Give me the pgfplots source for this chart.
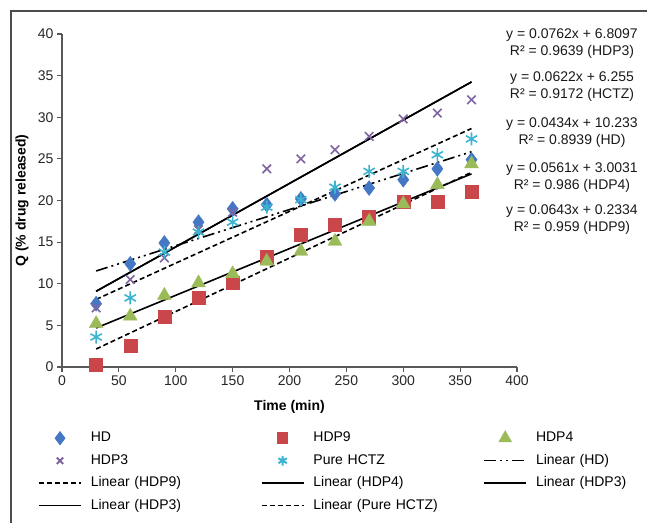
\documentclass[border=0pt]{standalone}
\usepackage{fontspec}
\setmainfont{Liberation Sans}
\usepackage{pgfplots}
\pgfplotsset{compat=1.18}
\definecolor{hdblue}{HTML}{4478C4}
\definecolor{hdred}{HTML}{C9474A}
\definecolor{hdgreen}{HTML}{9BBB59}
\definecolor{hdpurple}{HTML}{8064A2}
\definecolor{hdaqua}{HTML}{3CB4CF}
\pgfplotsset{
  lineleg/.style={legend image code/.code={\draw[##1, line width=1.6pt] plot coordinates {(0pt,0pt) (42pt,0pt)};}},
  mkleg/.style={legend image code/.code={\path (0pt,0pt) (42pt,0pt);
    \draw[##1, line width=2pt, /tikz/every mark/.append style={scale=0.75}] plot coordinates {(21pt,0pt)};}},
}
\begin{document}
\begin{tikzpicture}[font=\fontsize{14}{17}\selectfont]
\path[use as bounding box] (0,0) rectangle (647pt,523pt);
\draw[black!70, line width=1.2pt] (11pt,0) -- (11pt,512pt) -- (647pt,512pt);
\begin{axis}[at={(62pt,156pt)}, anchor=south west, scale only axis,
  width=455pt, height=333pt,
  xmin=0, xmax=400, ymin=0, ymax=40,
  xtick={0,50,...,400}, ytick={0,5,...,40},
  axis lines=left, axis line style={-, black!65, line width=1.1pt},
  tick style={black!65, line width=1.1pt}, tick align=outside, major tick length=5pt,
  ticklabel style={font=\fontsize{14}{17}\selectfont, text=black!85},
  /pgf/number format/assume math mode=true,
  xlabel={\textbf{Time (min)}}, ylabel={\textbf{Q (\% drug released)}},
  xlabel style={at={(axis description cs:0.5,-0.12)}, anchor=center},
  ylabel style={at={(axis description cs:-0.088,0.5)}, anchor=center},
  clip=false,
  legend columns=3,
  legend style={at={(axis description cs:-0.0527,-0.1914)}, anchor=north west,
    draw=none, fill=none, inner sep=0pt, row sep=8pt,
    font=\fontsize{14}{17}\selectfont,
    nodes={inner sep=0pt, text height=11pt, text depth=3.5pt, text width=170pt, align=left},
    /tikz/every odd column/.style={column sep=9pt}},
  lineleg,
]
% measured points
\addplot[only marks, mark=diamond*, mark size=7.5pt, color=hdblue, mkleg]
  coordinates {(30,7.6) (60,12.4) (90,14.9) (120,17.4) (150,19.0) (180,19.5)
  (210,20.2) (240,20.8) (270,21.5) (300,22.5) (330,23.8) (360,24.9)};
\addlegendentry{HD}
\addplot[only marks, mark=square*, mark size=6.5pt, color=hdred, mkleg]
  coordinates {(30,0.3) (60,2.6) (90,6.1) (120,8.3) (150,10.1) (180,13.2)
  (210,15.9) (240,17.1) (270,18.1) (300,19.9) (330,19.8) (360,21.1)};
\addlegendentry{HDP9}
\addplot[only marks, mark=triangle*, mark size=8pt, color=hdgreen, mkleg]
  coordinates {(30,5.2) (60,6.1) (90,8.6) (120,10.1) (150,11.2) (180,12.7)
  (210,13.9) (240,15.1) (270,17.5) (300,19.6) (330,21.9) (360,24.4)};
\addlegendentry{HDP4}
\addplot[only marks, mark=x, mark size=6pt, line width=1.6pt, color=hdpurple, mkleg]
  coordinates {(30,7.1) (60,10.5) (90,13.1) (120,16.5) (150,18.6) (180,23.8)
  (210,25.0) (240,26.1) (270,27.7) (300,29.8) (330,30.5) (360,32.1)};
\addlegendentry{HDP3}
\addplot[only marks, mark=asterisk, mark size=6.5pt, line width=1.6pt, color=hdaqua, mkleg]
  coordinates {(30,3.6) (60,8.3) (90,13.8) (120,16.2) (150,17.4) (180,19.2)
  (210,20.1) (240,21.6) (270,23.5) (300,23.5) (330,25.5) (360,27.4)};
\addlegendentry{Pure HCTZ}
% linear trend lines
\addplot[black, line width=1.6pt, dash pattern=on 12pt off 4pt on 2pt off 4pt on 2pt off 4pt]
  coordinates {(30,11.535) (360,25.857)};
\addlegendentry{Linear (HD)}
\addplot[black, line width=1.6pt, dash pattern=on 5pt off 3pt]
  coordinates {(30,2.162) (360,23.381)};
\addlegendentry{Linear (HDP9)}
\addplot[black, line width=1.6pt]
  coordinates {(30,4.686) (360,23.199)};
\addlegendentry{Linear (HDP4)}
\addplot[black, line width=1.6pt]
  coordinates {(30,9.096) (360,34.242)};
\addlegendentry{Linear (HDP3)}
\addplot[black, line width=1.6pt]
  coordinates {(30,9.096) (360,34.242)};
\addlegendentry{Linear (HDP3)}
\addplot[black, line width=1.6pt, dash pattern=on 5pt off 3pt]
  coordinates {(30,8.121) (360,28.647)};
\addlegendentry{Linear (Pure HCTZ)}
\end{axis}
\begin{scope}[every node/.style={align=center, text=black!90}]
\node at (572pt,523pt-44pt) {y = 0.0762x + 6.8097\\R² = 0.9639 (HDP3)};
\node at (572pt,523pt-87pt) {y = 0.0622x + 6.255\\R² = 0.9172 (HCTZ)};
\node at (572pt,523pt-133pt) {y = 0.0434x + 10.233\\R² = 0.8939 (HD)};
\node at (572pt,523pt-177.5pt) {y = 0.0561x + 3.0031\\R² = 0.986 (HDP4)};
\node at (572pt,523pt-220pt) {y = 0.0643x + 0.2334\\R² = 0.959 (HDP9)};
\end{scope}
\end{tikzpicture}
\end{document}
